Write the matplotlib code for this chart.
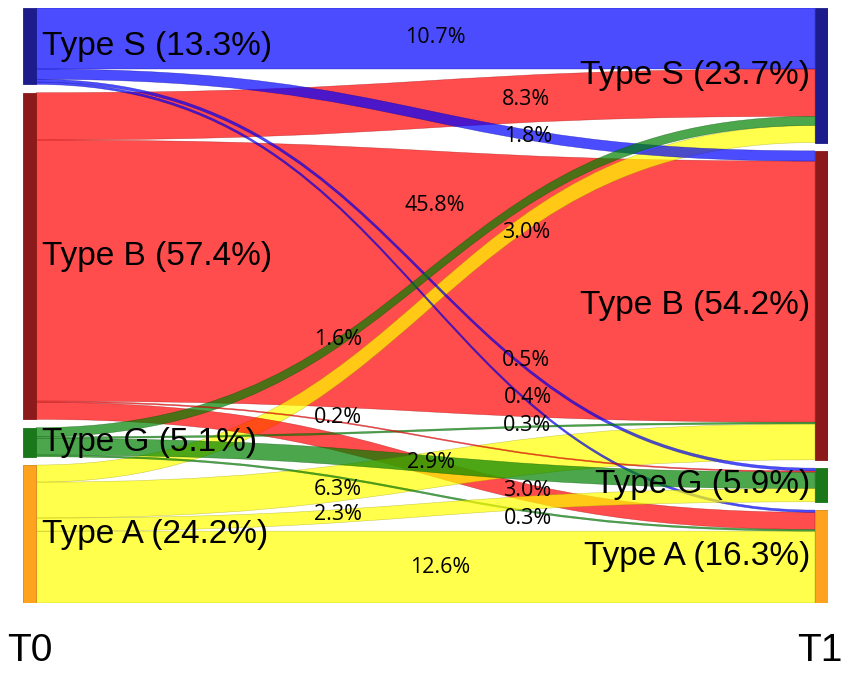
import matplotlib.pyplot as plt
from matplotlib.path import Path
from matplotlib.patches import PathPatch, Rectangle

# typy w chwili T0 i T1
types = ["S", "B", "G", "A"]
t0_shares = [13.3, 57.4, 5.1, 24.2]
t1_shares = [23.7, 54.2, 5.9, 16.3]

# przeplywy: wiersz = typ w T0, kolumna = typ w T1 (w %)
flows = [
    [10.7, 1.8, 0.5, 0.4],   # z S
    [8.3, 45.8, 0.2, 3.0],   # z B
    [1.6, 0.3, 2.9, 0.3],    # z G
    [3.0, 6.3, 2.3, 12.6],   # z A
]

# gdzie stoja etykiety procentowe (ulamek szerokosci, wysokosc w %)
label_spots = {
    (0, 0): (0.512, 5.1), (0, 1): (0.627, 22.5), (0, 2): (0.625, 61.8), (0, 3): (0.627, 68.4),
    (1, 0): (0.625, 16.1), (1, 1): (0.511, 34.6), (1, 2): (0.391, 71.8), (1, 3): (0.626, 84.6),
    (2, 0): (0.391, 58.2), (2, 1): (0.626, 73.2), (2, 2): (0.507, 79.8), (2, 3): (0.627, 89.5),
    (3, 0): (0.625, 39.3), (3, 1): (0.391, 84.4), (3, 2): (0.391, 88.9), (3, 3): (0.518, 98.2),
}

# kolejnosc rysowania wstazek (co lezy na czym)
draw_order = [(1, 0), (1, 1), (3, 0), (1, 3), (3, 3), (3, 1), (0, 0), (0, 1), (0, 2), (0, 3),
              (2, 0), (2, 1), (2, 2), (2, 3), (1, 2), (3, 2)]

node_colors = {"S": "#1c1c8c", "B": "#8c1a1a", "G": "#1a771a", "A": "#ffa31f"}
node_edges = {"S": "#1c1c8c", "B": "#8c1a1a", "G": "#1a771a", "A": "#d9861a"}
link_colors = {"S": (0, 0, 1, 0.7), "B": (1, 0, 0, 0.7), "G": (0, 0.5, 0, 0.7), "A": (1, 1, 0, 0.7)}

gap = 1.456
node_w = 0.0162
total = 100 + gap * (len(types) - 1)

fig = plt.figure(figsize=(8.5, 6.73), dpi=100)
ax = fig.add_axes([23 / 850, 1 - 603 / 673, 805 / 850, 595 / 673])
ax.set_xlim(0, 1)
ax.set_ylim(total, 0)
ax.axis("off")


def node_tops(sizes):
    tops = []
    y = 0
    for s in sizes:
        tops.append(y)
        y += s + gap
    return tops


out_sizes = [sum(row) for row in flows]
in_sizes = [sum(flows[i][j] for i in range(4)) for j in range(4)]
left_tops = node_tops(out_sizes)
right_tops = node_tops(in_sizes)

# pozycje startu/konca kazdego przeplywu w wezlach
src_off = [[0] * 4 for _ in range(4)]
dst_off = [[0] * 4 for _ in range(4)]
for i in range(4):
    y = left_tops[i]
    for j in range(4):
        src_off[i][j] = y
        y += flows[i][j]
for j in range(4):
    y = right_tops[j]
    for i in range(4):
        dst_off[i][j] = y
        y += flows[i][j]

x0, x1 = node_w, 1 - node_w
xm = (x0 + x1) / 2
for i, j in draw_order:
    v = flows[i][j]
    s0, d0 = src_off[i][j], dst_off[i][j]
    verts = [(x0, s0), (xm, s0), (xm, d0), (x1, d0),
             (x1, d0 + v), (xm, d0 + v), (xm, s0 + v), (x0, s0 + v), (x0, s0)]
    codes = [Path.MOVETO, Path.CURVE4, Path.CURVE4, Path.CURVE4,
             Path.LINETO, Path.CURVE4, Path.CURVE4, Path.CURVE4, Path.CLOSEPOLY]
    c = link_colors[types[i]]
    ax.add_patch(PathPatch(Path(verts, codes), facecolor=c,
                           edgecolor=(c[0] * 0.6, c[1] * 0.6, c[2] * 0.6, 0.5), lw=0.4))

for k, t in enumerate(types):
    ax.add_patch(Rectangle((0, left_tops[k]), node_w, out_sizes[k],
                           facecolor=node_colors[t], edgecolor=node_edges[t], lw=0.6))
    ax.add_patch(Rectangle((1 - node_w, right_tops[k]), node_w, in_sizes[k],
                           facecolor=node_colors[t], edgecolor=node_edges[t], lw=0.6))
    ax.text(0.0236, left_tops[k] + out_sizes[k] / 2, f"Type {t} ({t0_shares[k]}%)",
            ha="left", va="center", fontsize=24, family="Liberation Sans")
    ax.text(0.978, right_tops[k] + in_sizes[k] / 2, f"Type {t} ({t1_shares[k]}%)",
            ha="right", va="center", fontsize=24, family="Liberation Sans")

for (i, j), (lx, ly) in label_spots.items():
    ax.text(lx, ly, f"{flows[i][j]:.1f}%", ha="center", va="center",
            fontsize=15.5, family="Open Sans")

fig.text(7 / 850, 1 - 651 / 673, "T0", ha="left", va="center", fontsize=28, family="Liberation Sans")
fig.text(843 / 850, 1 - 651 / 673, "T1", ha="right", va="center", fontsize=28, family="Liberation Sans")

fig.savefig("out.png", dpi=100)
